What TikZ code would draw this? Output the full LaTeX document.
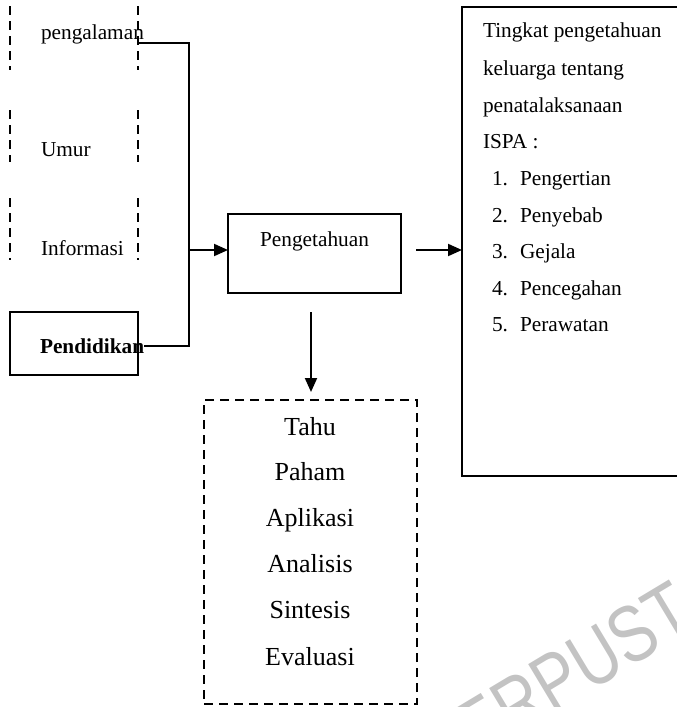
\documentclass[tikz,border=0pt]{standalone}
\usepackage{fontspec}
\usepackage{graphicx}
\setmainfont{Liberation Serif}
\newfontfamily\wmfont{Liberation Sans}
\usetikzlibrary{arrows.meta}
\definecolor{wm}{RGB}{195,195,195}
\begin{document}
\begin{tikzpicture}[x=1pt,y=-1pt,
  every node/.style={inner sep=0pt, outer sep=0pt},
  txt/.style={font=\fontsize{21.3}{25}\selectfont, anchor=base west},
  bigtxt/.style={font=\fontsize{26}{30}\selectfont, anchor=base},
  dashline/.style={line width=2pt, dash pattern=on 9pt off 6pt},
  solidbox/.style={draw, line width=2pt},
  dashbox/.style={draw, line width=2pt, dash pattern=on 9pt off 6pt},
  conn/.style={line width=2pt},
  arr/.style={line width=2pt, -{Triangle[length=14pt,width=12pt]}},
]
\useasboundingbox (0,0) rectangle (677,707);

% watermark
\begin{scope}
\clip (0,0) rectangle (677,707);
\node[rotate=31, anchor=base west, text=wm, font=\wmfont\fontsize{80}{80}\selectfont] (wmk) at (440,782) {\scalebox{0.8}[1]{PERPUSTAKAAN}};
\end{scope}

% left factor groups (dashed side borders only)
\node[minimum width=128pt, minimum height=64pt] (g1) at (74,38) {};
\node[minimum width=128pt, minimum height=52pt] (g2) at (74,136) {};
\node[minimum width=128pt, minimum height=62pt] (g3) at (74,229) {};
\foreach \g in {g1,g2,g3}{
  \draw[dashline] (\g.north west) -- (\g.south west);
  \draw[dashline] (\g.north east) -- (\g.south east);
}
\node[txt] (t1) at (41,39) {pengalaman};
\node[txt] (t2) at (41,156) {Umur};
\node[txt] (t3) at (41,255) {Informasi};

% Pendidikan box
\node[solidbox, minimum width=128pt, minimum height=63pt] (pend) at (74,343.5) {};
\node[txt, font=\fontsize{21.3}{25}\selectfont\bfseries] (t4) at (40,353) {Pendidikan};

% Pengetahuan box
\node[solidbox, minimum width=173pt, minimum height=79pt] (know) at (314.5,253.5) {};
\node[txt, anchor=base] (t5) at (314.5,246) {Pengetahuan};

% big box on right
\node[solidbox, minimum width=238pt, minimum height=469pt] (big) at (581,241.5) {};
\node[txt] at (483,37) {Tingkat pengetahuan};
\node[txt] at (483,75) {keluarga tentang};
\node[txt] at (483,112) {penatalaksanaan};
\node[txt] at (483,148) {ISPA :};
\foreach \n/\w/\y in {1/Pengertian/185, 2/Penyebab/222, 3/Gejala/258, 4/Pencegahan/295, 5/Perawatan/331}{
  \node[txt] at (492,\y) {\n.};
  \node[txt] at (520,\y) {\w};
}

% dashed box of levels
\node[dashbox, minimum width=213pt, minimum height=304pt] (lv) at (310.5,552) {};
\foreach \w/\y in {Tahu/435, Paham/480, Aplikasi/526, Analisis/572, Sintesis/618, Evaluasi/665}{
  \node[bigtxt] at (310,\y) {\w};
}

% connectors
\coordinate (c1) at (189,43);
\coordinate (c2) at (189,346);
\coordinate (cj) at (189,250);
\draw[conn] (g1.east |- c1) -- (c1) -- (c2) -- (t4.east |- c2);
\draw[arr] (cj) -- (know.west |- cj);
\coordinate (a0) at (416,250);
\draw[arr] (a0) -- (big.west |- a0);
\coordinate (d0) at (311,312);
\draw[arr, shorten >=8pt] (d0) -- (d0 |- lv.north);
\end{tikzpicture}
\end{document}
